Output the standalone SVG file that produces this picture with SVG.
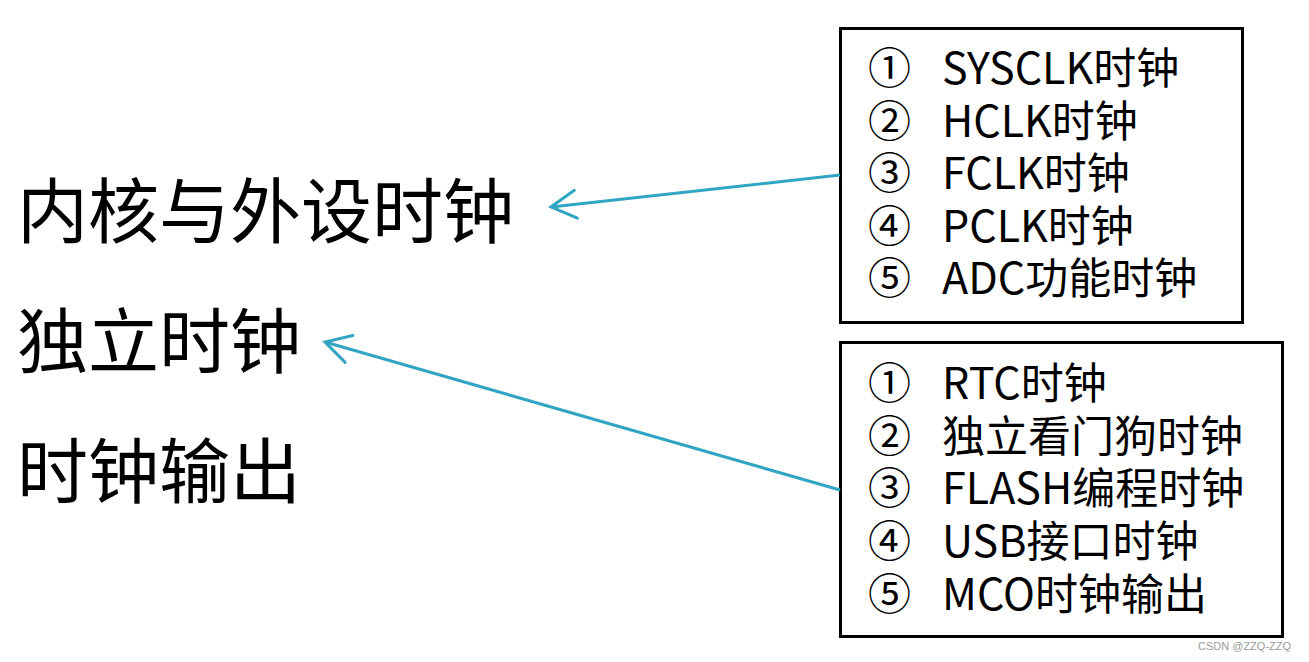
<svg xmlns="http://www.w3.org/2000/svg" width="1309" height="662" viewBox="0 0 1309 662">
<defs>
<style>
.big{font-family:"Noto Sans CJK SC","Noto Sans",sans-serif;font-size:71px;fill:#000}
.item{font-family:"Noto Sans CJK SC","Noto Sans",sans-serif;font-size:43px;fill:#000}
.box{fill:#fff;stroke:#000;stroke-width:3}
.conn{stroke:#31a5c3;stroke-width:3;fill:none}
.wm{font-family:"Liberation Sans",sans-serif;font-size:11px;fill:#9a9a9a}
</style>
<marker id="open" markerUnits="userSpaceOnUse" markerWidth="40" markerHeight="40" viewBox="-30 -20 40 40" refX="0" refY="0" orient="auto">
<path d="M-25,-14 L0,0 L-25,14" fill="none" stroke="#31a5c3" stroke-width="3" stroke-linecap="round" stroke-linejoin="miter"/>
</marker>
</defs>
<rect width="1309" height="662" fill="#fff"/>
<g id="left-labels">
<text class="big" x="17" y="237">内核与外设时钟</text>
<text class="big" x="17" y="367">独立时钟</text>
<text class="big" x="17" y="497">时钟输出</text>
</g>
<g id="box1">
<rect class="box" x="840.5" y="28.5" width="402" height="294"/>
<text class="item" x="868" y="84">①</text><text class="item" x="942" y="84">SYSCLK时钟</text>
<text class="item" x="868" y="137">②</text><text class="item" x="942" y="137">HCLK时钟</text>
<text class="item" x="868" y="189">③</text><text class="item" x="942" y="189">FCLK时钟</text>
<text class="item" x="868" y="242">④</text><text class="item" x="942" y="242">PCLK时钟</text>
<text class="item" x="868" y="294">⑤</text><text class="item" x="942" y="294">ADC功能时钟</text>
</g>
<g id="box2">
<rect class="box" x="840.5" y="342.5" width="442" height="294"/>
<text class="item" x="868" y="399">①</text><text class="item" x="942" y="399">RTC时钟</text>
<text class="item" x="868" y="452">②</text><text class="item" x="942" y="452">独立看门狗时钟</text>
<text class="item" x="868" y="504">③</text><text class="item" x="942" y="504">FLASH编程时钟</text>
<text class="item" x="868" y="557">④</text><text class="item" x="942" y="557">USB接口时钟</text>
<text class="item" x="868" y="610">⑤</text><text class="item" x="942" y="610">MCO时钟输出</text>
</g>
<g id="connectors">
<line class="conn" x1="840" y1="175" x2="551" y2="207" marker-end="url(#open)"/>
<line class="conn" x1="840" y1="490" x2="325" y2="342" marker-end="url(#open)"/>
</g>
<text class="wm" x="1198" y="650">CSDN @ZZQ-ZZQ</text>
</svg>
